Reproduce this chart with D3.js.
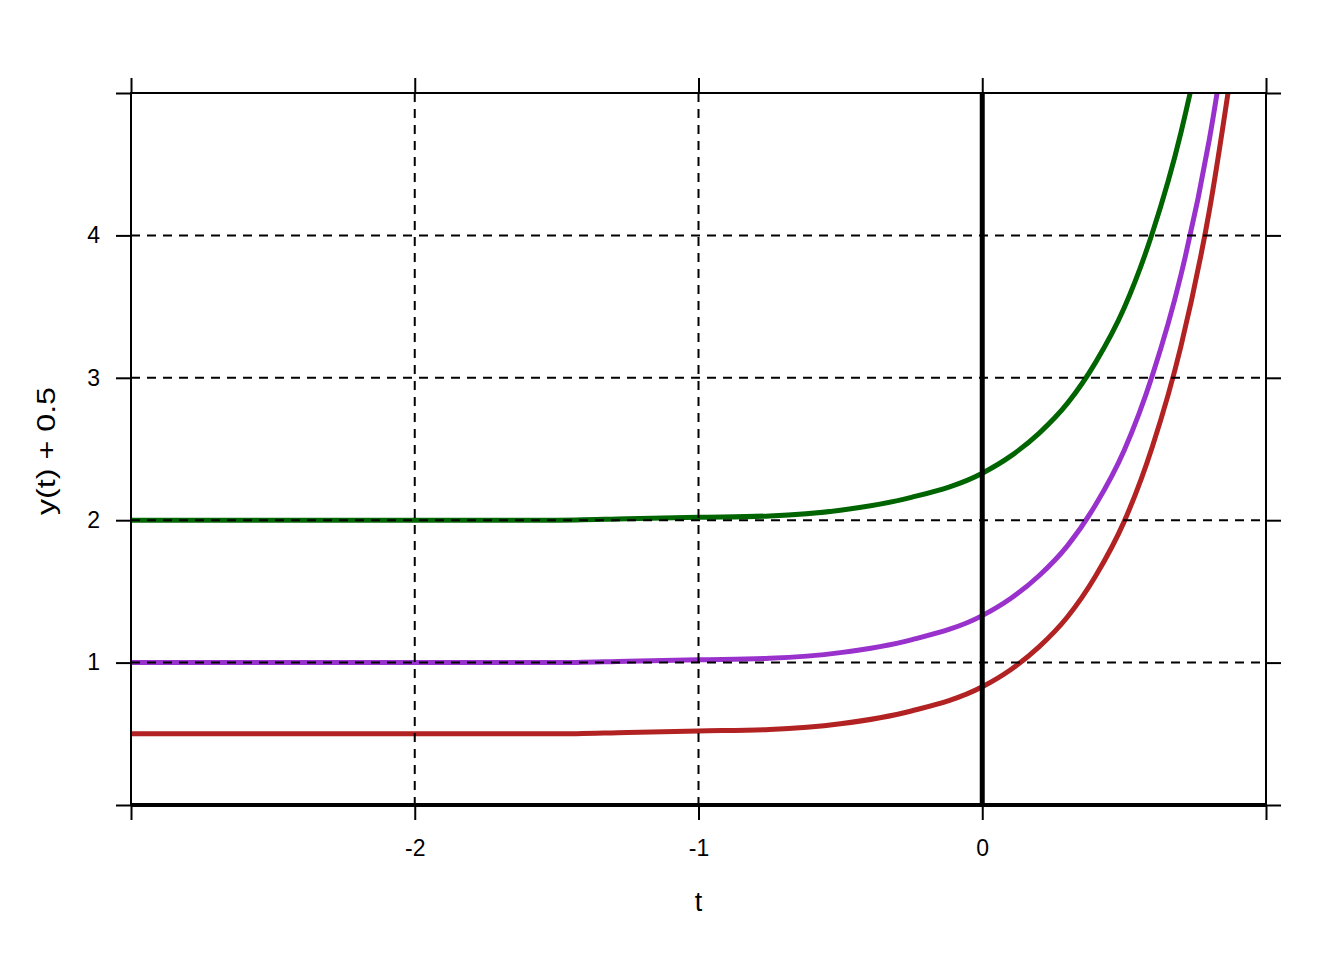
<!DOCTYPE html>
<html>
<head>
<meta charset="utf-8">
<script src="https://cdn.jsdelivr.net/npm/d3@7"></script>
<style>
  html, body { margin: 0; padding: 0; background: #fff; }
  svg { display: block; font-family: Arial, "Liberation Sans", sans-serif; }
</style>
</head>
<body>
<svg id="chart" width="1344" height="960"></svg>
<script>
// ---- data ----
const tValues = [-3, -2.5, -2, -1.5, -1.25, -1, -0.75, -0.5, -0.25, 0, 0.1, 0.2, 0.3, 0.4, 0.5, 0.6, 0.7, 0.8, 0.9];
const redSeries    = [0.50, 0.50, 0.50, 0.50, 0.51, 0.52, 0.53, 0.57, 0.66, 0.83, 0.95, 1.11, 1.32, 1.61, 1.99, 2.52, 3.22, 4.17, 5.46];
const purpleSeries = [1.00, 1.00, 1.00, 1.00, 1.01, 1.02, 1.03, 1.07, 1.16, 1.33, 1.45, 1.61, 1.82, 2.11, 2.49, 3.02, 3.72, 4.67, 5.96];
const greenSeries  = [2.00, 2.00, 2.00, 2.00, 2.01, 2.02, 2.03, 2.07, 2.16, 2.33, 2.45, 2.61, 2.82, 3.11, 3.49, 4.02, 4.72, 5.67, 6.96];
const seriesColors = ["#B22222", "#9932CC", "#006400"];
const xTicks = [-3, -2, -1, 0, 1];
const xTickLabels = ["", "-2", "-1", "0", ""];
const yTicks = [0, 1, 2, 3, 4, 5];
const yTickLabels = ["", "1", "2", "3", "4", ""];
const xGrid = [-2, -1];
const yGrid = [1, 2, 3, 4];
const xTitle = "t";
const yTitle = "y(t) + 0.5";

// ---- layout ----
const L = 131, R = 1266, T = 93, B = 805;
const svg = d3.select("#chart");
const x = d3.scaleLinear().domain([-3, 1]).range([L, R]);
const y = d3.scaleLinear().domain([0, 5]).range([B, T]);

svg.append("defs").append("clipPath").attr("id", "plotclip")
  .append("rect").attr("x", L).attr("y", T).attr("width", R - L).attr("height", B - T);

// curves
const line = d3.line().x(d => x(d[0])).y(d => y(d[1])).curve(d3.curveMonotoneX);
const allSeries = [redSeries, purpleSeries, greenSeries];
const gCurves = svg.append("g").attr("clip-path", "url(#plotclip)");
allSeries.forEach((s, i) => {
  gCurves.append("path")
    .datum(tValues.map((t, j) => [t, s[j]]))
    .attr("d", line)
    .attr("fill", "none")
    .attr("stroke", seriesColors[i])
    .attr("stroke-width", 5)
    .attr("stroke-linejoin", "round");
});

// grid
const gGrid = svg.append("g").attr("stroke", "#000").attr("stroke-width", 2).attr("stroke-dasharray", "9,7");
xGrid.forEach(v => gGrid.append("line").attr("x1", x(v)).attr("x2", x(v)).attr("y1", T).attr("y2", B));
yGrid.forEach(v => gGrid.append("line").attr("x1", L).attr("x2", R).attr("y1", y(v)).attr("y2", y(v)));

// reference lines
svg.append("line").attr("x1", x(0)).attr("x2", x(0)).attr("y1", T).attr("y2", B)
  .attr("stroke", "#000").attr("stroke-width", 5);
svg.append("line").attr("x1", L).attr("x2", R).attr("y1", y(0)).attr("y2", y(0))
  .attr("stroke", "#000").attr("stroke-width", 4);

// box
svg.append("rect").attr("x", L).attr("y", T).attr("width", R - L).attr("height", B - T)
  .attr("fill", "none").attr("stroke", "#000").attr("stroke-width", 2);

// axes
function styleAxis(g) {
  g.select(".domain").remove();
  g.attr("font-size", 23).attr("font-family", "Arial, 'Liberation Sans', sans-serif");
  g.selectAll(".tick line").attr("stroke", "#000").attr("stroke-width", 2);
  g.selectAll(".tick text").attr("fill", "#000");
}
const axB = svg.append("g").attr("transform", `translate(0,${B})`)
  .call(d3.axisBottom(x).tickValues(xTicks).tickSizeInner(15).tickSizeOuter(0).tickPadding(20)
    .tickFormat((d, i) => xTickLabels[i]));
styleAxis(axB);
const axT = svg.append("g").attr("transform", `translate(0,${T})`)
  .call(d3.axisTop(x).tickValues(xTicks).tickSizeInner(15).tickSizeOuter(0).tickFormat(() => ""));
styleAxis(axT);
const axL = svg.append("g").attr("transform", `translate(${L},0)`)
  .call(d3.axisLeft(y).tickValues(yTicks).tickSizeInner(15).tickSizeOuter(0).tickPadding(16)
    .tickFormat((d, i) => yTickLabels[i]));
styleAxis(axL);
const axR = svg.append("g").attr("transform", `translate(${R},0)`)
  .call(d3.axisRight(y).tickValues(yTicks).tickSizeInner(15).tickSizeOuter(0).tickFormat(() => ""));
styleAxis(axR);

// titles
svg.append("text").attr("x", x(-1)).attr("y", 911).attr("text-anchor", "middle")
  .attr("font-size", 27).attr("fill", "#000").text(xTitle);
svg.append("text").attr("transform", "translate(55,451) rotate(-90)")
  .attr("text-anchor", "middle")
  .attr("textLength", 128).attr("lengthAdjust", "spacingAndGlyphs")
  .attr("font-size", 25).attr("fill", "#000").text(yTitle);
</script>
</body>
</html>
